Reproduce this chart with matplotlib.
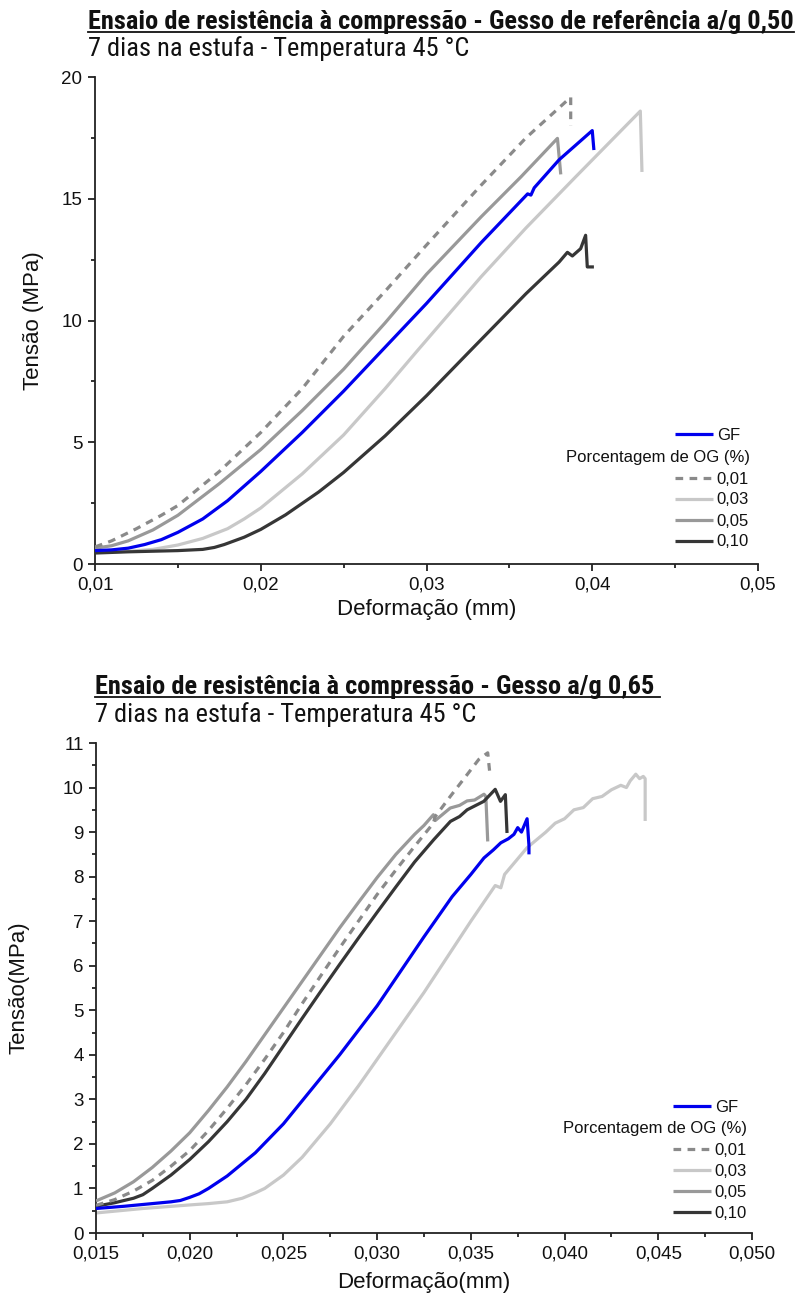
import matplotlib
matplotlib.use("Agg")
import matplotlib.pyplot as plt
from matplotlib.ticker import MultipleLocator, FuncFormatter
from matplotlib.lines import Line2D
from matplotlib import font_manager as fm

plt.rcParams['font.family'] = ['Liberation Sans', 'DejaVu Sans']

# ---------------- data: top chart (a/g 0,50) ----------------
top_gf_x = [0.010, 0.011, 0.012, 0.013, 0.014, 0.015, 0.0165, 0.018, 0.020, 0.0225, 0.025, 0.0275, 0.030, 0.0333, 0.0361, 0.0363, 0.0365, 0.038, 0.0400, 0.0401]
top_gf_y = [0.55, 0.58, 0.65, 0.8, 1.0, 1.3, 1.85, 2.6, 3.8, 5.4, 7.1, 8.9, 10.7, 13.2, 15.2, 15.15, 15.45, 16.6, 17.8, 17.0]

top_01_x = [0.010, 0.011, 0.0125, 0.014, 0.015, 0.0175, 0.020, 0.0225, 0.025, 0.0275, 0.030, 0.0333, 0.036, 0.0387, 0.0387]
top_01_y = [0.7, 0.95, 1.45, 2.0, 2.4, 3.8, 5.4, 7.2, 9.35, 11.2, 13.1, 15.56, 17.5, 19.17, 18.0]

top_03_x = [0.010, 0.012, 0.0135, 0.015, 0.0165, 0.018, 0.019, 0.020, 0.0225, 0.025, 0.0275, 0.0295, 0.0333, 0.036, 0.039, 0.0429, 0.0430]
top_03_y = [0.5, 0.52, 0.6, 0.78, 1.05, 1.45, 1.85, 2.3, 3.7, 5.3, 7.2, 8.8, 11.8, 13.8, 15.9, 18.6, 16.1]

top_05_x = [0.010, 0.011, 0.012, 0.0135, 0.015, 0.0175, 0.020, 0.0225, 0.025, 0.0275, 0.030, 0.0333, 0.0357, 0.0379, 0.0381]
top_05_y = [0.65, 0.75, 0.95, 1.4, 2.0, 3.3, 4.7, 6.3, 8.0, 9.9, 11.9, 14.26, 15.9, 17.48, 16.0]

top_10_x = [0.010, 0.012, 0.015, 0.0165, 0.0172, 0.0178, 0.019, 0.020, 0.0215, 0.0235, 0.025, 0.0275, 0.030, 0.0327, 0.036, 0.038, 0.0385, 0.0388, 0.0393, 0.0396, 0.0397, 0.0401]
top_10_y = [0.45, 0.5, 0.55, 0.6, 0.68, 0.8, 1.1, 1.42, 2.02, 2.96, 3.76, 5.26, 6.91, 8.8, 11.1, 12.4, 12.8, 12.65, 12.95, 13.5, 12.2, 12.2]

# ---------------- data: bottom chart (a/g 0,65) ----------------
bot_gf_x = [0.015, 0.0165, 0.018, 0.019, 0.0195, 0.020, 0.0205, 0.021, 0.022, 0.0235, 0.025, 0.02645, 0.028, 0.030, 0.0325, 0.034, 0.035, 0.0357, 0.0362, 0.0366, 0.0370, 0.0373, 0.0375, 0.0377, 0.0380, 0.0381, 0.0381]
bot_gf_y = [0.55, 0.6, 0.66, 0.7, 0.73, 0.8, 0.88, 1.0, 1.28, 1.8, 2.45, 3.2, 4.0, 5.1, 6.65, 7.55, 8.05, 8.42, 8.6, 8.76, 8.85, 8.95, 9.1, 9.0, 9.3, 8.7, 8.5]

bot_01_x = [0.015, 0.016, 0.017, 0.018, 0.019, 0.020, 0.021, 0.022, 0.023, 0.024, 0.025, 0.026, 0.027, 0.028, 0.029, 0.030, 0.031, 0.032, 0.0330, 0.0331, 0.0339, 0.0348, 0.03542, 0.0359, 0.0360]
bot_01_y = [0.62, 0.75, 0.94, 1.18, 1.5, 1.85, 2.3, 2.8, 3.33, 3.9, 4.5, 5.15, 5.78, 6.4, 7.0, 7.6, 8.15, 8.68, 9.2, 9.35, 9.8, 10.29, 10.63, 10.78, 10.37]

bot_03_x = [0.015, 0.0175, 0.020, 0.021, 0.022, 0.0228, 0.0235, 0.024, 0.025, 0.026, 0.0275, 0.029, 0.030, 0.0325, 0.035, 0.0363, 0.0366, 0.0368, 0.0375, 0.038, 0.039, 0.0395, 0.040, 0.0405, 0.041, 0.0415, 0.042, 0.0425, 0.043, 0.0433, 0.0435, 0.0438, 0.0440, 0.0442, 0.0443, 0.0443]
bot_03_y = [0.45, 0.55, 0.63, 0.66, 0.7, 0.78, 0.9, 1.0, 1.3, 1.7, 2.45, 3.3, 3.9, 5.4, 7.0, 7.8, 7.75, 8.05, 8.4, 8.65, 9.0, 9.2, 9.3, 9.5, 9.55, 9.75, 9.8, 9.95, 10.05, 10.0, 10.15, 10.3, 10.2, 10.25, 10.2, 9.25]

bot_05_x = [0.015, 0.016, 0.017, 0.018, 0.019, 0.020, 0.021, 0.022, 0.023, 0.024, 0.025, 0.026, 0.027, 0.028, 0.029, 0.030, 0.031, 0.032, 0.0325, 0.0330, 0.0331, 0.0335, 0.0339, 0.0344, 0.0348, 0.0352, 0.0357, 0.0358, 0.0359]
bot_05_y = [0.72, 0.9, 1.15, 1.47, 1.84, 2.25, 2.75, 3.28, 3.85, 4.45, 5.05, 5.65, 6.25, 6.85, 7.42, 7.98, 8.5, 8.95, 9.15, 9.39, 9.26, 9.4, 9.54, 9.6, 9.7, 9.72, 9.85, 9.8, 8.79]

bot_10_x = [0.015, 0.016, 0.017, 0.0175, 0.018, 0.019, 0.020, 0.021, 0.022, 0.023, 0.024, 0.025, 0.026, 0.027, 0.028, 0.029, 0.030, 0.031, 0.032, 0.03302, 0.03391, 0.0344, 0.0348, 0.03569, 0.0363, 0.03658, 0.03684, 0.03693]
bot_10_y = [0.6, 0.68, 0.78, 0.86, 1.0, 1.3, 1.65, 2.05, 2.5, 3.0, 3.58, 4.2, 4.82, 5.43, 6.03, 6.62, 7.2, 7.77, 8.33, 8.83, 9.24, 9.35, 9.5, 9.69, 9.96, 9.69, 9.84, 8.98]

legend_labels = ['GF', '0,01', '0,03', '0,05', '0,10']
legend_header = 'Porcentagem de OG (%)'

top_title = 'Ensaio de resistência à compressão - Gesso de referência a/g 0,50'
bot_title = 'Ensaio de resistência à compressão - Gesso a/g 0,65'
subtitle = '7 dias na estufa - Temperatura 45 °C'

# ---------------- styles ----------------
C_GF = '#0000ee'
C_01 = '#8a8a8a'
C_03 = '#c8c8c8'
C_05 = '#999999'
C_10 = '#363636'
LW = 2.3
TXT = '#111111'


def find_narrow(bold):
    prefs = ['Liberation Sans Narrow', 'Arial Narrow', 'Roboto Condensed', 'Open Sans Condensed',
             'DejaVu Sans Condensed', 'Noto Sans Condensed']
    cands = []
    for f in fm.fontManager.ttflist:
        nm = (f.name + ' ' + f.fname).lower()
        narrow = ('narrow' in nm or 'condensed' in nm or
                  str(f.stretch) in ('condensed', 'semi-condensed', 'extra-condensed'))
        if not narrow or 'italic' in nm or 'oblique' in f.style or 'italic' in f.style:
            continue
        w = f.weight if isinstance(f.weight, int) else (700 if 'bold' in str(f.weight) else 400)
        if bold and w < 600:
            continue
        if not bold and w >= 600:
            continue
        if 'light' in nm or 'thin' in nm or 'black' in nm or 'medium' in nm or 'semibold' in nm or 'extrabold' in nm:
            continue
        rank = len(prefs)
        for i, p in enumerate(prefs):
            if p.lower().split()[0] in nm:
                rank = i
                break
        cands.append((rank, f.fname))
    if cands:
        cands.sort()
        return fm.FontProperties(fname=cands[0][1])
    return fm.FontProperties(family='Liberation Sans', weight='bold' if bold else 'normal')


fp_bold = find_narrow(True)
fp_reg = find_narrow(False)

fig = plt.figure(figsize=(8.11, 13.07), dpi=100)

ax1 = fig.add_axes([95/811, 1-564/1307, 663/811, 487/1307])
ax2 = fig.add_axes([96/811, 1-1233/1307, 656/811, 490/1307])


def style_axes(ax):
    for s in ['top', 'right']:
        ax.spines[s].set_visible(False)
    for s in ['left', 'bottom']:
        ax.spines[s].set_linewidth(1.3)
        ax.spines[s].set_color('#222222')
    ax.tick_params(which='major', direction='out', length=5, width=1.3,
                   labelsize=13.5, colors='#222222', labelcolor=TXT, pad=4)
    ax.tick_params(which='minor', direction='out', length=3, width=1.3, colors='#222222')


def plot_set(ax, data):
    (gx, gy), (ax01, ay01), (ax03, ay03), (ax05, ay05), (ax10, ay10) = data
    kw = dict(lw=LW, solid_joinstyle='round', solid_capstyle='butt')
    h_gf, = ax.plot(gx, gy, color=C_GF, zorder=5, **kw)
    h01, = ax.plot(ax01, ay01, color=C_01, lw=LW, dashes=(2.4, 2.0), zorder=4)
    h03, = ax.plot(ax03, ay03, color=C_03, zorder=2, **kw)
    h05, = ax.plot(ax05, ay05, color=C_05, zorder=3, **kw)
    h10, = ax.plot(ax10, ay10, color=C_10, zorder=3, **kw)
    return [h_gf, h01, h03, h05, h10]


def add_legend(ax, handles, x_px, y_gf, y_block, y_head, x_head):
    common = dict(loc='center left', bbox_transform=fig.transFigure, frameon=False,
                  fontsize=12, handlelength=2.3, handletextpad=0.2,
                  labelspacing=0.36, borderpad=0, borderaxespad=0)
    leg1 = ax.legend([handles[0]], [legend_labels[0]],
                     bbox_to_anchor=(x_px/811, 1-y_gf/1307), **common)
    ax.add_artist(leg1)
    leg2 = ax.legend(handles[1:], legend_labels[1:],
                     bbox_to_anchor=(x_px/811, 1-y_block/1307), **common)
    for leg in (leg1, leg2):
        for t in leg.get_texts():
            t.set_color(TXT)
    fig.text(x_head/811, 1-y_head/1307, legend_header, fontsize=12,
             va='center', ha='left', color=TXT)


style_axes(ax1)
h1 = plot_set(ax1, [(top_gf_x, top_gf_y), (top_01_x, top_01_y), (top_03_x, top_03_y),
                    (top_05_x, top_05_y), (top_10_x, top_10_y)])
ax1.set_xlim(0.01, 0.05)
ax1.set_ylim(0, 20)
ax1.xaxis.set_major_locator(MultipleLocator(0.01))
ax1.xaxis.set_minor_locator(MultipleLocator(0.005))
ax1.yaxis.set_major_locator(MultipleLocator(5))
ax1.yaxis.set_minor_locator(MultipleLocator(2.5))
ax1.xaxis.set_major_formatter(FuncFormatter(lambda v, p: f'{v:.2f}'.replace('.', ',')))
ax1.yaxis.set_major_formatter(FuncFormatter(lambda v, p: f'{v:.0f}'))
ax1.set_xlabel('Deformação (mm)', fontsize=16, color=TXT)
ax1.set_ylabel('Tensão (MPa)', fontsize=16, color=TXT)
ax1.xaxis.set_label_coords(0.5, -(599-564)/487)
ax1.yaxis.set_label_coords(-(95-44)/663, 0.5)
add_legend(ax1, h1, 675, 435, 510.5, 458, 566)

style_axes(ax2)
h2 = plot_set(ax2, [(bot_gf_x, bot_gf_y), (bot_01_x, bot_01_y), (bot_03_x, bot_03_y),
                    (bot_05_x, bot_05_y), (bot_10_x, bot_10_y)])
ax2.set_xlim(0.015, 0.05)
ax2.set_ylim(0, 11)
ax2.xaxis.set_major_locator(MultipleLocator(0.005))
ax2.xaxis.set_minor_locator(MultipleLocator(0.0025))
ax2.yaxis.set_major_locator(MultipleLocator(1))
ax2.yaxis.set_minor_locator(MultipleLocator(0.5))
ax2.xaxis.set_major_formatter(FuncFormatter(lambda v, p: f'{v:.3f}'.replace('.', ',')))
ax2.yaxis.set_major_formatter(FuncFormatter(lambda v, p: f'{v:.0f}'))
ax2.set_xlabel('Deformação(mm)', fontsize=16, color=TXT)
ax2.set_ylabel('Tensão(MPa)', fontsize=16, color=TXT)
ax2.xaxis.set_label_coords(0.5, -(1272-1233)/490)
ax2.yaxis.set_label_coords(-(96-30)/656, 0.5)
add_legend(ax2, h2, 673, 1107, 1182, 1129, 563)

# titles (font size fitted to the reference text widths)
fig.canvas.draw()
r = fig.canvas.get_renderer()


def fitted_text(x_px, base_px, s, fp, target_w):
    t = fig.text(x_px/811, 1-base_px/1307, s, fontproperties=fp, va='baseline', ha='left', color=TXT)
    t.set_fontsize(20)
    w = t.get_window_extent(r).width
    t.set_fontsize(min(20 * target_w / w, 19))
    return t


t1 = fitted_text(88, 29, top_title, fp_bold, 720)
fitted_text(88, 56, subtitle, fp_reg, 383)
t2 = fitted_text(95, 694, bot_title, fp_bold, 567)
fitted_text(95, 722, subtitle, fp_reg, 383)

fig.canvas.draw()
for t, extra in [(t1, 0), (t2, 6)]:
    bb = t.get_window_extent(r)
    x0 = bb.x0 / fig.bbox.width
    x1 = (bb.x1 + extra) / fig.bbox.width
    ybase = t.get_position()[1] - 3.0 / fig.bbox.height
    fig.add_artist(Line2D([x0, x1], [ybase, ybase], transform=fig.transFigure,
                          color=TXT, lw=1.3))

fig.savefig('out.png', dpi=100)
